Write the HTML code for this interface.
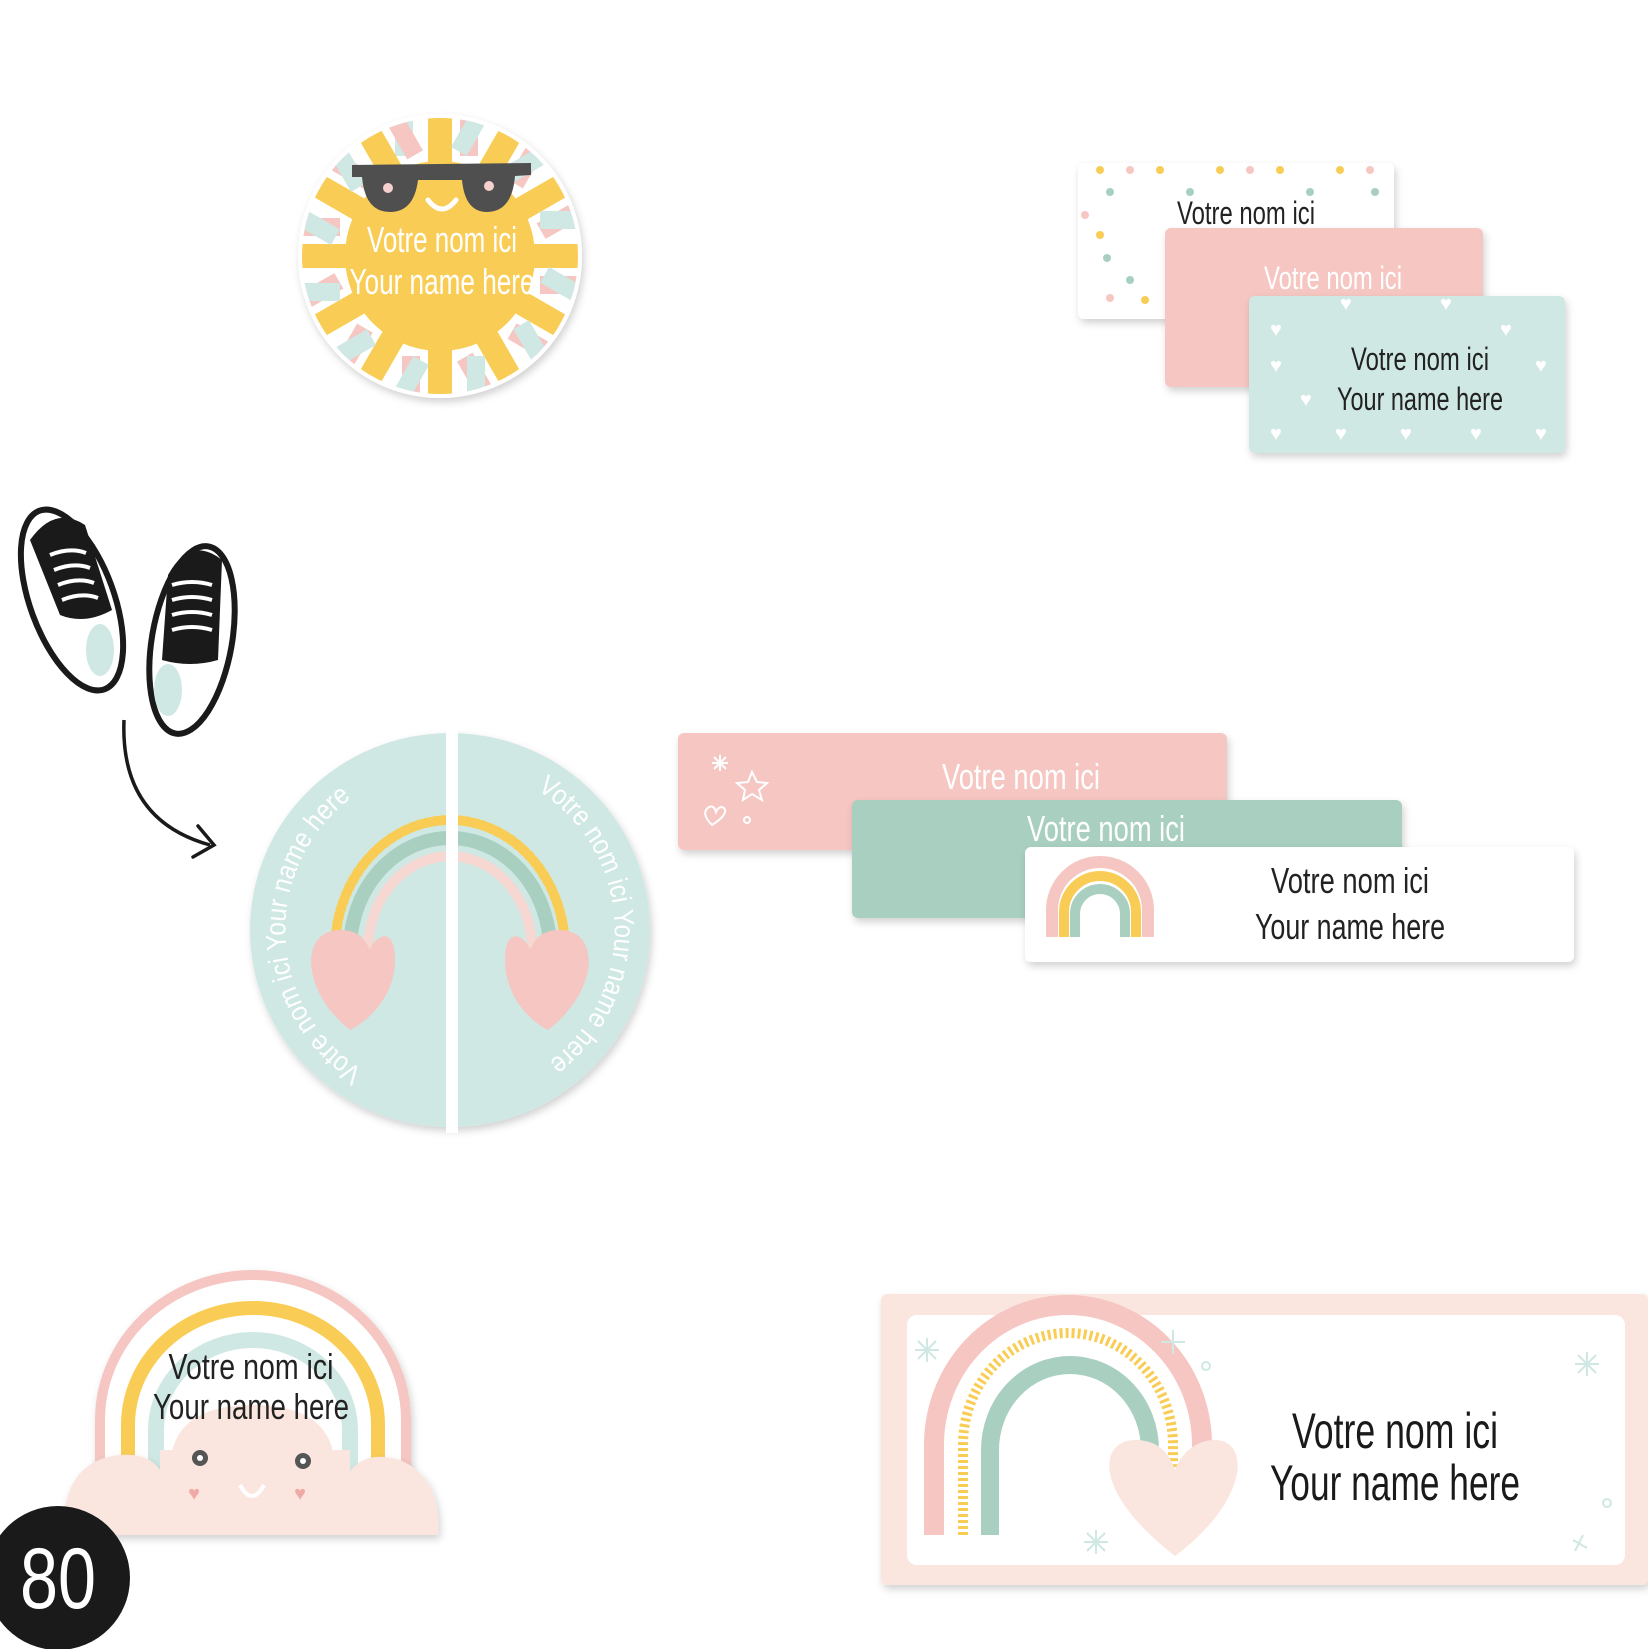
<!DOCTYPE html>
<html><head><meta charset="utf-8"><style>
html,body{margin:0;padding:0;background:#fff;width:1648px;height:1649px;overflow:hidden}
svg text{font-family:"Liberation Sans Narrow","Liberation Sans",sans-serif}
</style></head><body>
<svg width="1648" height="1649" viewBox="0 0 1648 1649" xmlns="http://www.w3.org/2000/svg">
<defs>
<filter id="sh" x="-10%" y="-10%" width="120%" height="130%"><feDropShadow dx="2" dy="4" stdDeviation="4" flood-color="#000" flood-opacity="0.18"/></filter>
<clipPath id="sunc"><circle cx="440" cy="256" r="138"/></clipPath>
<path id="arcL" d="M 363 1070 A165 165 0 0 1 363 790"/>
<path id="arcR" d="M 537 790 A165 165 0 0 1 537 1070"/>
</defs>

<!-- Sun sticker -->
<g filter="url(#sh)"><circle cx="440" cy="256" r="142" fill="#fff"/></g>
<g clip-path="url(#sunc)">
 <g transform="translate(440,256)">
  <g id="rays">
   <rect x="-12" y="-150" width="24" height="110" fill="#f9cd55"/>
   <rect x="20" y="-140" width="18" height="40" fill="#f5c6c2"/>
   <rect x="-45" y="-140" width="18" height="40" fill="#cfe8e3"/>
  </g>
  <use href="#rays" transform="rotate(30)"/><use href="#rays" transform="rotate(60)"/>
  <use href="#rays" transform="rotate(90)"/><use href="#rays" transform="rotate(120)"/>
  <use href="#rays" transform="rotate(150)"/><use href="#rays" transform="rotate(180)"/>
  <use href="#rays" transform="rotate(210)"/><use href="#rays" transform="rotate(240)"/>
  <use href="#rays" transform="rotate(270)"/><use href="#rays" transform="rotate(300)"/>
  <use href="#rays" transform="rotate(330)"/>
  <circle r="95" fill="#f9cd55"/>
 </g>
</g>
<path d="M352 165 L531 163 L531 175 L515 176 Q512 212 487 212 Q465 212 462 180 L418 180 Q414 212 390 212 Q365 212 362 177 L352 177Z" fill="#4f4f4f"/>
<circle cx="388" cy="188" r="5" fill="#f5d0cc"/><circle cx="489" cy="186" r="5" fill="#f5d0cc"/>
<path d="M428 200 q14 18 28 0" stroke="#fff" stroke-width="5" fill="none" stroke-linecap="round"/>
<text x="442" y="252" font-size="36" fill="#fff" text-anchor="middle" textLength="150" lengthAdjust="spacingAndGlyphs">Votre nom ici</text>
<text x="442" y="294" font-size="36" fill="#fff" text-anchor="middle" textLength="185" lengthAdjust="spacingAndGlyphs">Your name here</text>

<!-- Top right stacked labels -->
<g filter="url(#sh)">
 <rect x="1078" y="163" width="316" height="156" rx="6" fill="#fff"/>
</g>
<g fill="#f9cd55"><circle cx="1100" cy="170" r="4"/><circle cx="1160" cy="170" r="4"/><circle cx="1220" cy="170" r="4"/><circle cx="1280" cy="170" r="4"/><circle cx="1340" cy="170" r="4"/><circle cx="1100" cy="235" r="4"/><circle cx="1145" cy="300" r="4"/></g>
<g fill="#a8cfc0"><circle cx="1110" cy="192" r="4"/><circle cx="1190" cy="192" r="4"/><circle cx="1310" cy="192" r="4"/><circle cx="1107" cy="258" r="4"/><circle cx="1130" cy="280" r="4"/><circle cx="1375" cy="192" r="4"/></g>
<g fill="#f5c6c2"><circle cx="1130" cy="170" r="4"/><circle cx="1250" cy="170" r="4"/><circle cx="1370" cy="170" r="4"/><circle cx="1085" cy="215" r="4"/><circle cx="1110" cy="298" r="4"/></g>
<text x="1246" y="224" font-size="32" fill="#222" text-anchor="middle" textLength="138" lengthAdjust="spacingAndGlyphs">Votre nom ici</text>
<g filter="url(#sh)"><rect x="1165" y="228" width="318" height="159" rx="6" fill="#f5c6c2"/></g>
<text x="1333" y="289" font-size="32" fill="#fff" text-anchor="middle" textLength="138" lengthAdjust="spacingAndGlyphs">Votre nom ici</text>
<g filter="url(#sh)"><rect x="1249" y="296" width="316" height="157" rx="6" fill="#cfe8e3"/></g>
<g fill="#fff" font-size="20">
<text x="1270" y="336">♥</text><text x="1340" y="310">♥</text><text x="1440" y="310">♥</text><text x="1500" y="336">♥</text><text x="1270" y="372">♥</text><text x="1535" y="372">♥</text><text x="1300" y="406">♥</text><text x="1270" y="440">♥</text><text x="1335" y="440">♥</text><text x="1400" y="440">♥</text><text x="1470" y="440">♥</text><text x="1535" y="440">♥</text>
</g>
<text x="1420" y="370" font-size="32" fill="#222" text-anchor="middle" textLength="138" lengthAdjust="spacingAndGlyphs">Votre nom ici</text>
<text x="1420" y="410" font-size="32" fill="#222" text-anchor="middle" textLength="166" lengthAdjust="spacingAndGlyphs">Your name here</text>

<!-- Sneakers -->
<g stroke="#1a1a1a" stroke-width="6" fill="#fff">
 <ellipse cx="72" cy="600" rx="42" ry="95" transform="rotate(-20 72 600)"/>
 <ellipse cx="192" cy="640" rx="40" ry="95" transform="rotate(10 192 640)"/>
</g>
<path d="M30 540 Q55 505 85 525 L112 610 Q85 625 60 615Z" fill="#1a1a1a"/>
<path d="M168 575 Q190 535 222 560 L218 660 Q190 668 162 660Z" fill="#1a1a1a"/>
<g stroke="#fff" stroke-width="4" fill="none">
<path d="M50 555 q20-8 36-2 M54 570 q20-8 36-2 M58 585 q20-8 36-2 M62 600 q20-8 36-2"/>
<path d="M172 585 q20-6 40 0 M172 600 q20-6 40 0 M172 615 q20-6 40 0 M172 630 q20-6 40 0"/>
</g>
<ellipse cx="100" cy="650" rx="14" ry="26" fill="#cfe8e3"/>
<ellipse cx="168" cy="690" rx="14" ry="26" fill="#cfe8e3"/>
<path d="M124 720 Q120 820 210 845" stroke="#1a1a1a" stroke-width="3.5" fill="none"/>
<path d="M198 826 L214 845 L193 857" stroke="#1a1a1a" stroke-width="3.5" fill="none" stroke-linecap="round"/>

<!-- Split circle -->
<g filter="url(#sh)">
 <ellipse cx="450" cy="930" rx="200" ry="197" fill="#cfe8e3"/>
</g>
<g fill="none" stroke-linecap="round">
 <path d="M335 950 A115 130 0 0 1 565 950" stroke="#f9cd55" stroke-width="10" stroke-dasharray="4 4"/>
 <path d="M350 950 A100 112 0 0 1 550 950" stroke="#a8cfc0" stroke-width="14"/>
 <path d="M368 950 A82 94 0 0 1 532 950" stroke="#f6d7d2" stroke-width="10"/>
</g>
<path d="M350 1030 C300 990 300 930 340 930 C360 930 365 940 370 950 C375 935 395 925 395 960 C395 995 370 1020 350 1030Z" fill="#f5c6c2"/>
<path d="M548 1030 C600 990 600 930 560 930 C540 930 535 940 530 950 C525 935 505 925 505 960 C505 995 528 1020 548 1030Z" fill="#f5c6c2"/>
<text font-size="28" fill="#fff"><textPath href="#arcL" textLength="320" lengthAdjust="spacingAndGlyphs">Votre nom ici Your name here</textPath></text>
<text font-size="28" fill="#fff"><textPath href="#arcR" textLength="320" lengthAdjust="spacingAndGlyphs">Votre nom ici Your name here</textPath></text>
<rect x="446" y="728" width="12" height="405" fill="#fff"/>

<!-- Middle stacked labels -->
<g filter="url(#sh)"><rect x="678" y="733" width="549" height="117" rx="6" fill="#f5c6c2"/></g>
<g stroke="#fff" stroke-width="2" fill="none"><path d="M720 755 v16 M712 763 h16 M714 757 l12 12 M726 757 l-12 12"/><path d="M752 772 l5 10 10 1 -8 7 3 10 -10 -6 -9 6 2 -10 -8 -7 11-1z"/><path d="M712 825 q-12-12 -3-18 q5 -2 7 5 q3-7 8-4 q5 6-12 17z"/><circle cx="747" cy="820" r="3"/></g>
<text x="1021" y="789" font-size="36" fill="#fff" text-anchor="middle" textLength="158" lengthAdjust="spacingAndGlyphs">Votre nom ici</text>
<g filter="url(#sh)"><rect x="852" y="800" width="550" height="118" rx="6" fill="#a8cfc0"/></g>
<text x="1106" y="841" font-size="36" fill="#fff" text-anchor="middle" textLength="158" lengthAdjust="spacingAndGlyphs">Votre nom ici</text>
<g filter="url(#sh)"><rect x="1025" y="847" width="549" height="115" rx="6" fill="#fff"/></g>
<g fill="none">
 <path d="M1052 937 V910 A48 48 0 0 1 1148 910 V937" stroke="#f5c6c2" stroke-width="12"/>
 <path d="M1064 937 V912 A36 36 0 0 1 1136 912 V937" stroke="#f9cd55" stroke-width="10"/>
 <path d="M1075 937 V914 A25 25 0 0 1 1125 914 V937" stroke="#a8cfc0" stroke-width="10"/>
</g>
<text x="1350" y="893" font-size="36" fill="#222" text-anchor="middle" textLength="158" lengthAdjust="spacingAndGlyphs">Votre nom ici</text>
<text x="1350" y="939" font-size="36" fill="#222" text-anchor="middle" textLength="190" lengthAdjust="spacingAndGlyphs">Your name here</text>

<!-- Rainbow cloud -->
<g filter="url(#sh)">
 <path d="M95 1470 V1420 A158 150 0 0 1 411 1420 V1470Z" fill="#fff"/>
</g>
<g fill="none">
 <path d="M100 1480 V1420 A153 145 0 0 1 406 1420 V1480" stroke="#f5c6c2" stroke-width="10"/>
 <path d="M128 1480 V1425 A125 117 0 0 1 378 1425 V1480" stroke="#f9cd55" stroke-width="14"/>
 <path d="M156 1480 V1430 A97 90 0 0 1 350 1430 V1480" stroke="#cfe8e3" stroke-width="16"/>
</g>
<path d="M170 1470 Q170 1405 253 1405 Q335 1405 335 1470Z" fill="#fbe6df"/>
<g filter="url(#sh)">
 <path d="M63 1535 Q62 1460 120 1455 Q155 1452 165 1480 L345 1480 Q360 1448 400 1460 Q442 1478 438 1535Z" fill="#fbe6df"/>
</g>
<rect x="160" y="1450" width="190" height="40" fill="#fbe6df"/>
<circle cx="200" cy="1458" r="8" fill="#555"/><circle cx="200" cy="1458" r="3" fill="#fff"/>
<circle cx="303" cy="1461" r="8" fill="#555"/><circle cx="303" cy="1461" r="3" fill="#fff"/>
<text x="194" y="1500" font-size="20" fill="#f0aaa6" text-anchor="middle">♥</text>
<text x="300" y="1500" font-size="20" fill="#f0aaa6" text-anchor="middle">♥</text>
<path d="M240 1485 q12 22 24 0" stroke="#fff" stroke-width="4" fill="none"/>
<text x="251" y="1379" font-size="36" fill="#222" text-anchor="middle" textLength="165" lengthAdjust="spacingAndGlyphs">Votre nom ici</text>
<text x="251" y="1419" font-size="36" fill="#222" text-anchor="middle" textLength="196" lengthAdjust="spacingAndGlyphs">Your name here</text>

<!-- 80 badge -->
<circle cx="58" cy="1578" r="72" fill="#1a1a1a"/>
<text x="58" y="1608" font-size="86" fill="#fff" text-anchor="middle" textLength="76" lengthAdjust="spacingAndGlyphs">80</text>

<!-- Big label -->
<g filter="url(#sh)"><rect x="881" y="1294" width="767" height="291" rx="6" fill="#fbe6df"/></g>
<rect x="907" y="1315" width="718" height="250" rx="10" fill="#fff"/>
<g fill="none">
 <path d="M934 1535 V1445 A134 140 0 0 1 1202 1445 V1500" stroke="#f5c6c2" stroke-width="20"/>
 <path d="M963 1535 V1445 A105 112 0 0 1 1173 1445 V1470" stroke="#f9cd55" stroke-width="10" stroke-dasharray="3 3"/>
 <path d="M990 1535 V1450 A80 85 0 0 1 1150 1450 V1480" stroke="#a8cfc0" stroke-width="18"/>
</g>
<path d="M1175 1556 C1090 1490 1100 1440 1135 1440 C1160 1440 1170 1455 1175 1470 C1180 1455 1195 1440 1215 1440 C1250 1440 1250 1500 1175 1556Z" fill="#fbe6df"/>
<g stroke="#cfe8e3" stroke-width="2"><path d="M927 1338 v24 M915 1350 h24 M918 1341 l18 18 M936 1341 l-18 18"/><path d="M1587 1352 v24 M1575 1364 h24 M1578 1355 l18 18 M1596 1355 l-18 18"/><path d="M1096 1530 v24 M1084 1542 h24 M1087 1533 l18 18 M1105 1533 l-18 18"/><path d="M1173 1330 v24 M1161 1342 h24"/><path d="M1583 1535 l-8 16 M1573 1540 l14 8"/></g>
<circle cx="1206" cy="1366" r="4" fill="none" stroke="#cfe8e3" stroke-width="2"/>
<circle cx="1607" cy="1503" r="4" fill="none" stroke="#cfe8e3" stroke-width="2"/>
<text x="1395" y="1448" font-size="50" fill="#1a1a1a" text-anchor="middle" textLength="206" lengthAdjust="spacingAndGlyphs">Votre nom ici</text>
<text x="1395" y="1500" font-size="50" fill="#1a1a1a" text-anchor="middle" textLength="250" lengthAdjust="spacingAndGlyphs">Your name here</text>
</svg>
</body></html>
